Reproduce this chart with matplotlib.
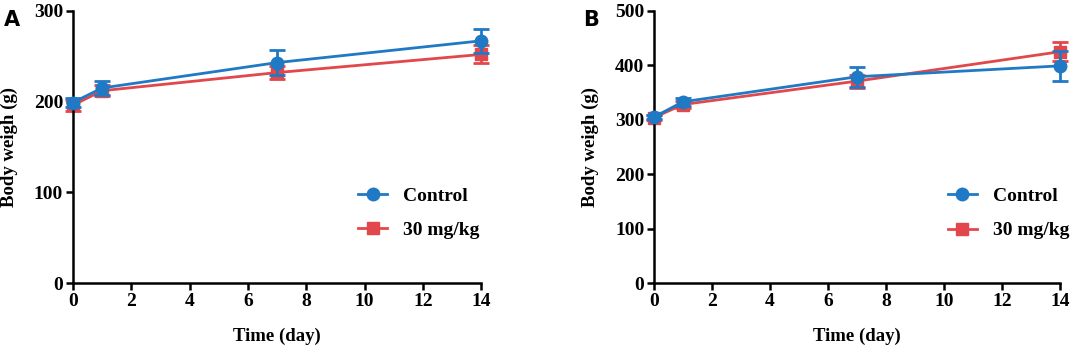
import numpy as np
import matplotlib
matplotlib.use('Agg')
import matplotlib.pyplot as plt

# 数据
days = [0, 1, 7, 14]
a_ctrl = [199, 215, 243, 267]
a_ctrl_err = [5, 8, 14, 13]
a_dose = [196, 212, 232, 252]
a_dose_err = [6, 6, 7, 10]

b_ctrl = [305, 333, 379, 399]
b_ctrl_err = [4, 7, 18, 28]
b_dose = [304, 328, 371, 425]
b_dose_err = [4, 6, 12, 18]

blue = '#2079C4'
red = '#E2474B'

plt.rcParams['font.family'] = ['Liberation Serif', 'DejaVu Serif']
plt.rcParams['font.weight'] = 'bold'

fig = plt.figure(figsize=(10.72, 3.5), dpi=100)
axA = fig.add_axes([0.068, 0.191, 0.381, 0.778])
axB = fig.add_axes([0.610, 0.191, 0.379, 0.778])

def draw(ax, ctrl, ctrl_err, dose, dose_err, ymax, yticks, leg_pos, letter, lx):
    ax.errorbar(days, ctrl, yerr=ctrl_err, color=blue, marker='o', ms=9,
                lw=2, capsize=6, capthick=2, elinewidth=2, label='Control', zorder=3)
    ax.errorbar(days, dose, yerr=dose_err, color=red, marker='s', ms=9,
                lw=2, capsize=6, capthick=2, elinewidth=2, label='30 mg/kg', zorder=2)
    ax.set_xlim(0, 14)
    ax.set_ylim(0, ymax)
    ax.set_xticks(range(0, 15, 2))
    ax.set_yticks(yticks)
    for s in ['top', 'right']:
        ax.spines[s].set_visible(False)
    for s in ['left', 'bottom']:
        ax.spines[s].set_linewidth(1.8)
    ax.tick_params(width=1.8, length=5, labelsize=14, pad=2)
    for t in ax.get_xticklabels() + ax.get_yticklabels():
        t.set_fontweight('bold')
    ax.set_xlabel('Time (day)', fontsize=13.5, fontweight='bold', labelpad=13)
    ax.set_ylabel('Body weigh (g)', fontsize=13.5, fontweight='bold')
    ax.yaxis.set_label_coords(-0.134, 0.5)
    for ln in ax.lines:
        ln.set_clip_on(False)
    for c in ax.collections:
        c.set_clip_on(False)
    h, l = ax.get_legend_handles_labels()
    h = [x[0] for x in h]
    fig.legend(h, l, loc='center left', bbox_to_anchor=leg_pos, frameon=False,
               borderpad=0, borderaxespad=0, labelspacing=0.85,
               handlelength=1.5, handletextpad=0.82,
               prop={'weight': 'bold', 'size': 14})
    fig.text(lx, 0.943, letter, fontsize=15, fontweight='bold', family='DejaVu Sans',
             ha='left', va='center')

draw(axA, a_ctrl, a_ctrl_err, a_dose, a_dose_err, 300, [0, 100, 200, 300],
     (0.334, 0.391), 'A', 0.004)
draw(axB, b_ctrl, b_ctrl_err, b_dose, b_dose_err, 500, [0, 100, 200, 300, 400, 500],
     (0.884, 0.390), 'B', 0.544)

fig.savefig('out.png', dpi=100)
